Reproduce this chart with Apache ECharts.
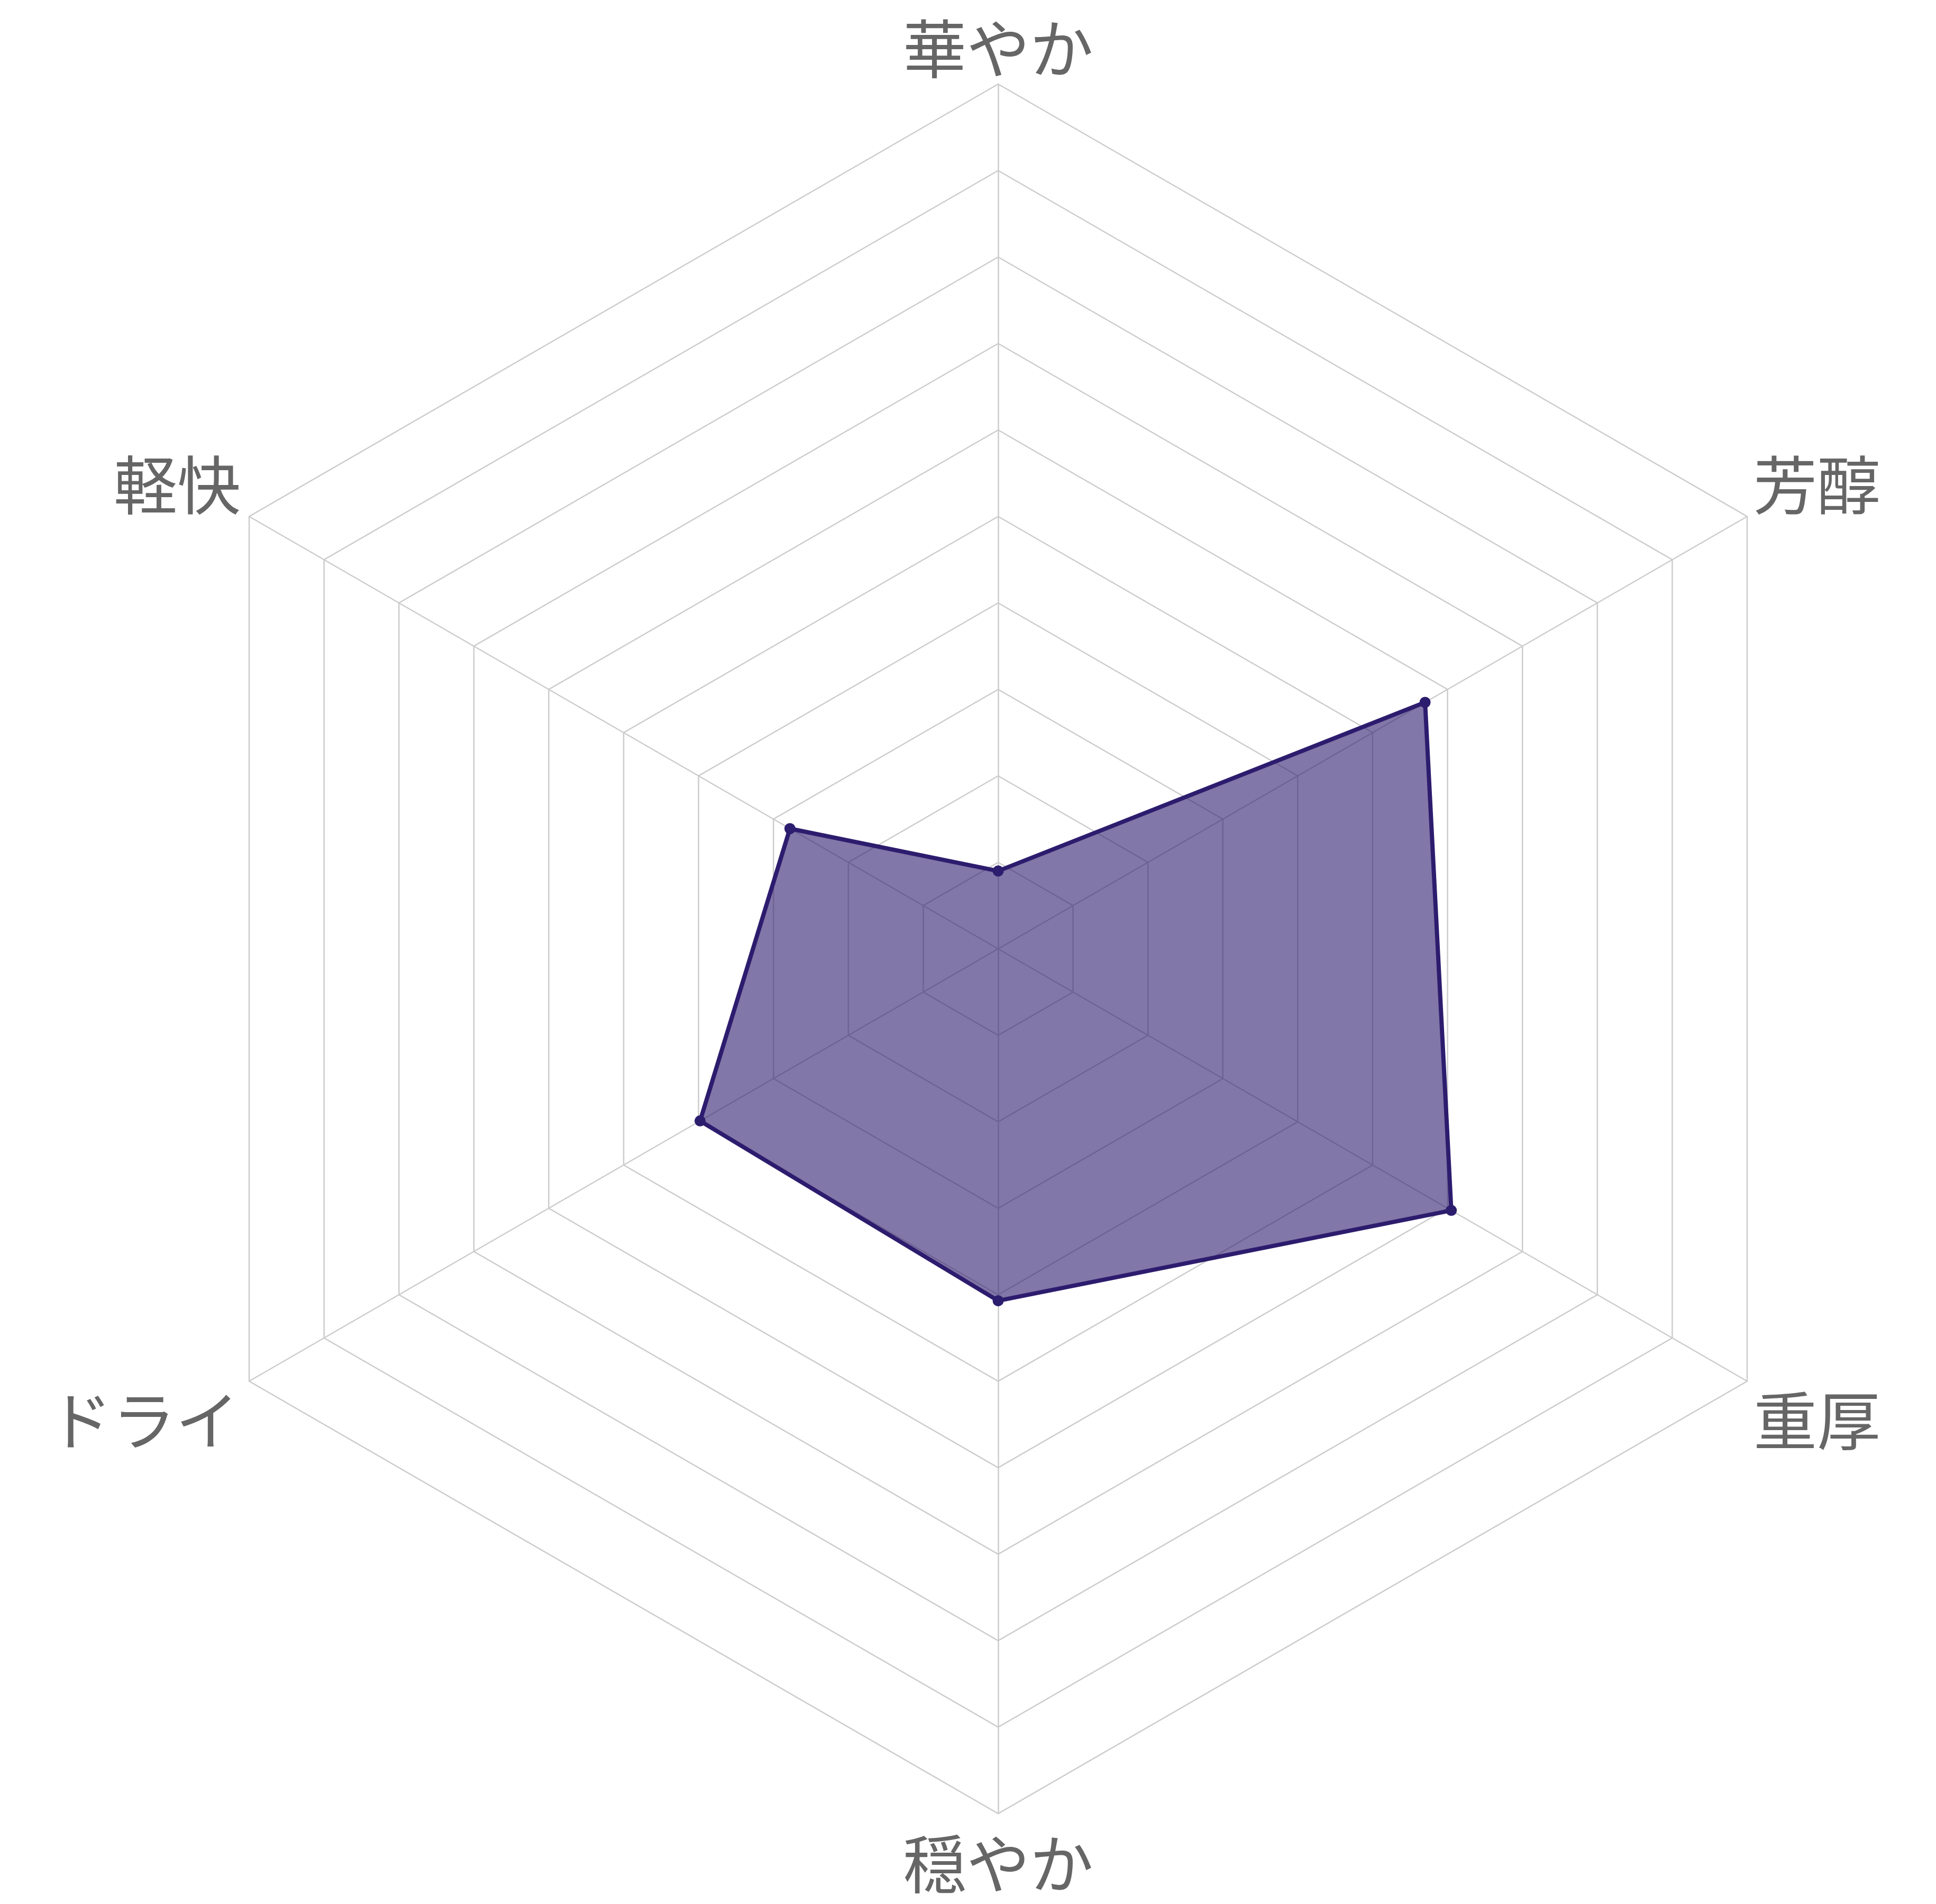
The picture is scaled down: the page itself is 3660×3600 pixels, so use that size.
<!DOCTYPE html>
<html>
<head>
<meta charset="utf-8">
<script src="https://cdn.jsdelivr.net/npm/echarts@6/dist/echarts.min.js"></script>
<style>
html,body{margin:0;padding:0;background:#ffffff;}
#chart{width:3660px;height:3600px;}
</style>
</head>
<body>
<div id="chart"></div>
<script>
// Reference order, clockwise starting at the top
const indicatorNames = ['華やか', '芳醇', '重厚', '穏やか', 'ドライ', '軽快'];
const indicatorMax = 10;
const values = [0.9, 5.7, 6.05, 4.07, 3.98, 2.78];

// ECharts radar lays indicators counter-clockwise; reverse everything after the first
function toCcw(arr) { return [arr[0]].concat(arr.slice(1).reverse()); }
const ccwNames = toCcw(indicatorNames);
const ccwValues = toCcw(values);

const labelKeys = { '華やか': 't', '芳醇': 'ur', '重厚': 'lr', '穏やか': 'b', 'ドライ': 'll', '軽快': 'ul' };
const baseText = { fontSize: 120, fontFamily: '"Noto Sans CJK JP", "Noto Sans", sans-serif', color: '#666666' };

const chart = echarts.init(document.getElementById('chart'), null, { renderer: 'canvas' });
chart.setOption({
  backgroundColor: '#ffffff',
  animation: false,
  radar: {
    center: [1887, 1794],
    radius: 1635,
    startAngle: 90,
    splitNumber: 10,
    shape: 'polygon',
    nameGap: 7,
    indicator: ccwNames.map(n => ({ name: n, max: indicatorMax, min: 0 })),
    axisName: Object.assign({}, baseText, {
      formatter: function (name) { return '{' + labelKeys[name] + '|' + name + '}'; },
      rich: {
        t: Object.assign({}, baseText),
        b: Object.assign({}, baseText, { padding: [28, 0, 0, 0] }),
        ur: Object.assign({}, baseText, { padding: [0, 0, 112, 6] }),
        lr: Object.assign({}, baseText, { padding: [142, 0, 0, 6] }),
        ll: Object.assign({}, baseText, { padding: [142, 13, 0, 0] }),
        ul: Object.assign({}, baseText, { padding: [0, 10, 112, 0] })
      }
    }),
    splitLine: { show: true, lineStyle: { color: '#cccccc', width: 2.5 } },
    axisLine: { show: true, lineStyle: { color: '#cccccc', width: 2.5 } },
    splitArea: { show: false },
    axisTick: { show: false },
    axisLabel: { show: false }
  },
  series: [{
    type: 'radar',
    symbol: 'circle',
    symbolSize: 21,
    lineStyle: { color: '#2d1d6e', width: 8 },
    itemStyle: { color: '#2d1d6e' },
    areaStyle: { color: '#2d1d6e', opacity: 0.6 },
    data: [{ value: ccwValues }]
  }]
});
</script>
</body>
</html>
